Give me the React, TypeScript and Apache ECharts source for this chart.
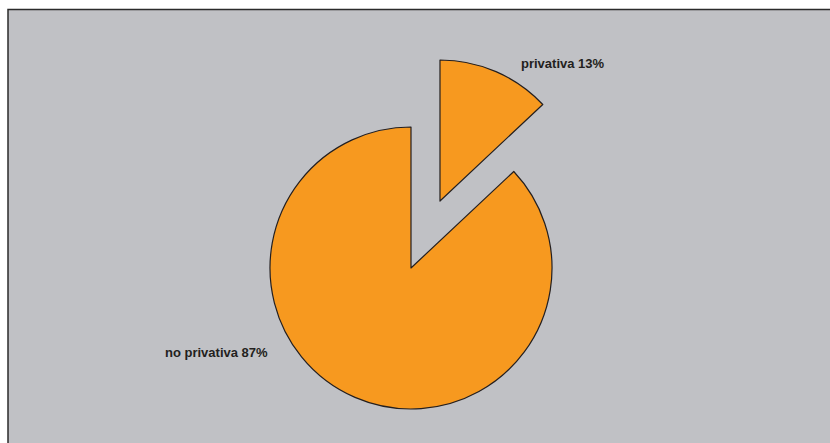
import React, { useEffect, useRef } from "react";
import * as echarts from "echarts";

const categories = ["privativa", "no privativa"];
const values = [13, 87];

export default function App() {
  const ref = useRef<HTMLDivElement>(null);
  useEffect(() => {
    if (!ref.current) return;
    const chart = echarts.init(ref.current, null, { renderer: "svg" });
    const labelPos = [
      { x: 521, y: 63 },
      { x: 165, y: 352 },
    ];
    const labelTexts = categories.map((c, i) => ({
      type: "text",
      z: 10,
      silent: true,
      x: labelPos[i].x,
      y: labelPos[i].y,
      style: {
        text: `${c} ${values[i]}%`,
        fill: "#231f20",
        font: "bold 13px 'Liberation Sans', Arial, sans-serif",
        textAlign: "left",
        textVerticalAlign: "middle",
      },
    }));
    chart.setOption({
      animation: false,
      backgroundColor: "#ffffff",
      graphic: [
        {
          type: "rect",
          z: -10,
          silent: true,
          shape: { x: 8, y: 9.5, width: 840, height: 460 },
          style: { fill: "#c0c1c5", stroke: "#2b2b2b", lineWidth: 1.5 },
        },
        ...labelTexts,
      ],
      series: [
        {
          type: "pie",
          center: [411, 268],
          radius: [0, 141],
          startAngle: 90,
          clockwise: true,
          selectedMode: "single",
          selectedOffset: 73,
          avoidLabelOverlap: false,
          itemStyle: { color: "#f7991f", borderColor: "#231f20", borderWidth: 1.2 },
          label: { show: false },
          labelLine: { show: false },
          emphasis: { disabled: true },
          data: categories.map((c, i) => ({
            name: c,
            value: values[i],
            selected: i === 0,
          })),
        },
      ],
    });
    return () => chart.dispose();
  }, []);
  return (
    <div
      ref={ref}
      style={{ position: "absolute", left: 0, top: 0, width: 830, height: 443 }}
    />
  );
}
